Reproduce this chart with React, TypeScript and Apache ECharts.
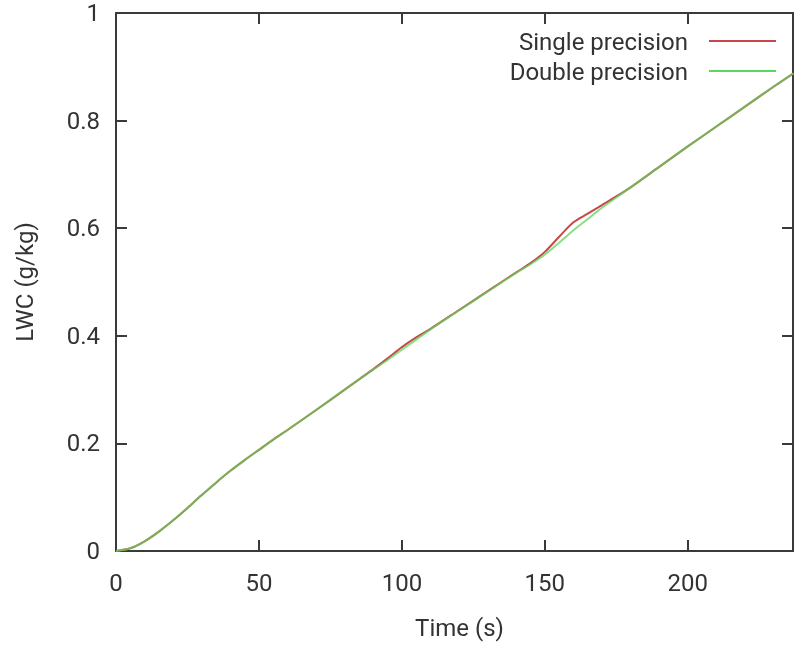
import React, { useEffect, useRef } from "react";
import * as echarts from "echarts";

const times = [0, 5, 10, 15, 20, 25, 30, 35, 40, 45, 50, 55, 60, 70, 80, 90, 95, 100, 105, 110, 120, 130, 140, 145, 150, 155, 160, 165, 170, 175, 180, 190, 200, 210, 220, 230, 237];
const singlePrecision = [0, 0.005, 0.018, 0.036, 0.057, 0.08, 0.104, 0.127, 0.149, 0.169, 0.188, 0.207, 0.225, 0.262, 0.3, 0.338, 0.358, 0.379, 0.397, 0.413, 0.448, 0.483, 0.518, 0.535, 0.556, 0.584, 0.611, 0.627, 0.643, 0.659, 0.676, 0.714, 0.752, 0.789, 0.826, 0.863, 0.888];
const doublePrecision = [0, 0.005, 0.018, 0.036, 0.057, 0.08, 0.104, 0.127, 0.149, 0.169, 0.188, 0.207, 0.225, 0.262, 0.3, 0.337, 0.355, 0.374, 0.393, 0.412, 0.447, 0.482, 0.517, 0.533, 0.551, 0.573, 0.596, 0.617, 0.638, 0.657, 0.676, 0.714, 0.752, 0.789, 0.826, 0.863, 0.888];
const xTicks = [0, 50, 100, 150, 200];
const yTicks = [0, 0.2, 0.4, 0.6, 0.8, 1];

const FONT = "Roboto";
const FS = 24;
const TEXT = "#333333";
const AXIS = "#3a3a3a";
const RED = "#c8474a";
const GREEN = "#5cd65c";

export default function App() {
  const ref = useRef<HTMLDivElement>(null);
  useEffect(() => {
    if (!ref.current) return;
    const chart = echarts.init(ref.current, null, { renderer: "svg" });
    const axisLine = { show: true, onZero: false, lineStyle: { color: AXIS, width: 2 } };
    const tickIn = { show: true, inside: true, length: 11, lineStyle: { color: AXIS, width: 2 } };
    const xFmt = (v: number) => (xTicks.includes(v) ? String(v) : "");
    chart.setOption({
      animation: false,
      grid: { left: 116, right: 1, top: 13, bottom: 93 },
      xAxis: [
        {
          type: "value", min: 0, max: 236.8, interval: 50, position: "bottom",
          axisLine, axisTick: tickIn, splitLine: { show: false },
          axisLabel: { color: TEXT, fontFamily: FONT, fontSize: FS, margin: 20, showMaxLabel: false, formatter: xFmt },
          name: "Time (s)", nameLocation: "middle", nameGap: 65,
          nameTextStyle: { color: TEXT, fontFamily: FONT, fontSize: FS, padding: [0, 0, 0, 10] },
        },
        {
          type: "value", min: 0, max: 236.8, interval: 50, position: "top",
          axisLine, axisTick: tickIn, splitLine: { show: false }, axisLabel: { show: false },
        },
      ],
      yAxis: [
        {
          type: "value", min: 0, max: 1, interval: 0.2, position: "left",
          axisLine, axisTick: tickIn, splitLine: { show: false },
          axisLabel: { color: TEXT, fontFamily: FONT, fontSize: FS, margin: 16, formatter: (v: number) => (yTicks.includes(v) ? String(v) : "") },
          name: "LWC (g/kg)", nameLocation: "middle", nameGap: 79,
          nameTextStyle: { color: TEXT, fontFamily: FONT, fontSize: FS },
        },
        {
          type: "value", min: 0, max: 1, interval: 0.2, position: "right",
          axisLine, axisTick: tickIn, splitLine: { show: false }, axisLabel: { show: false },
        },
      ],
      series: [
        {
          name: "Single precision", type: "line", xAxisIndex: 0, yAxisIndex: 0,
          data: times.map((t, i) => [t, singlePrecision[i]]),
          showSymbol: false, smooth: 0.3, lineStyle: { color: RED, width: 2 }, itemStyle: { color: RED },
        },
        {
          name: "Double precision", type: "line", xAxisIndex: 0, yAxisIndex: 0,
          data: times.map((t, i) => [t, doublePrecision[i]]),
          showSymbol: false, smooth: 0.3, lineStyle: { color: GREEN, width: 2, opacity: 0.75 }, itemStyle: { color: GREEN },
        },
      ],
      graphic: [
        { type: "text", x: 688, y: 42, style: { text: "Single precision", fill: TEXT, font: `${FS}px ${FONT}`, textAlign: "right", textVerticalAlign: "middle" } },
        { type: "line", shape: { x1: 709, y1: 41, x2: 776, y2: 41 }, style: { stroke: RED, lineWidth: 2 } },
        { type: "text", x: 688, y: 72, style: { text: "Double precision", fill: TEXT, font: `${FS}px ${FONT}`, textAlign: "right", textVerticalAlign: "middle" } },
        { type: "line", shape: { x1: 709, y1: 71, x2: 776, y2: 71 }, style: { stroke: GREEN, lineWidth: 2 } },
      ],
    });
    return () => chart.dispose();
  }, []);
  return <div ref={ref} style={{ position: "fixed", left: 0, top: 0, width: 794, height: 645 }} />;
}
